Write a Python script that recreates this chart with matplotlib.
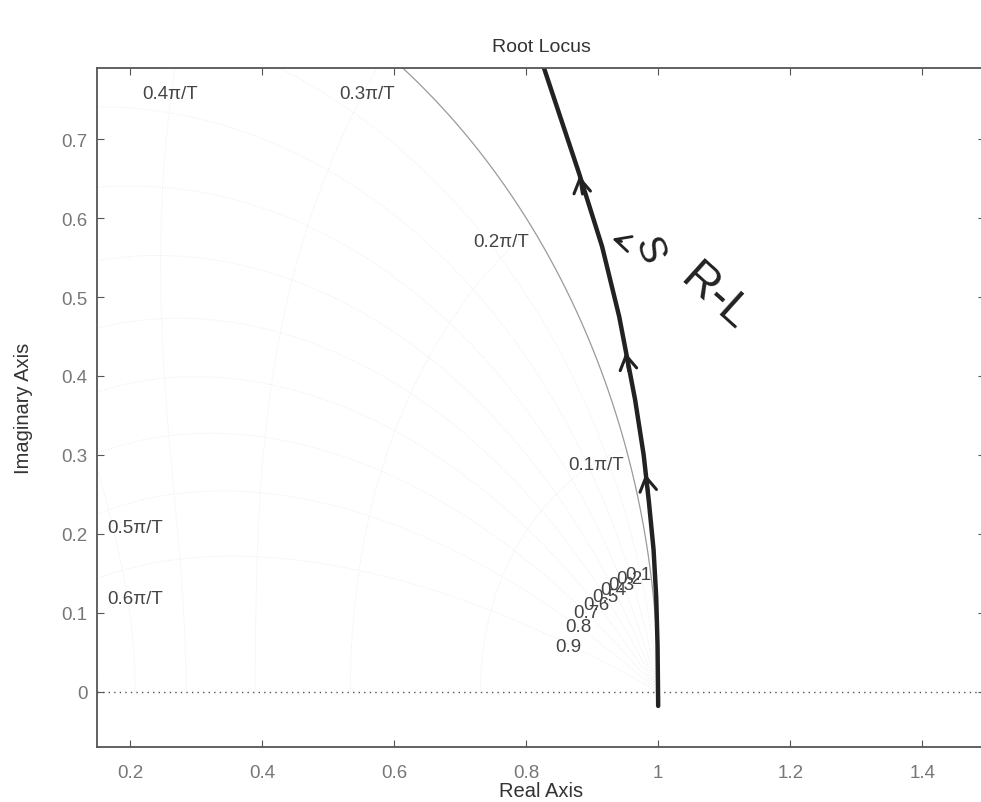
import numpy as np
import matplotlib.pyplot as plt

plt.rcParams['font.family'] = ['Liberation Sans', 'DejaVu Sans']

# root locus branch
locus_re = [1.000, 0.999, 0.997, 0.993, 0.986, 0.978, 0.965, 0.941, 0.915, 0.880, 0.827]
locus_im = [-0.018, 0.060, 0.120, 0.180, 0.240, 0.300, 0.370, 0.475, 0.564, 0.657, 0.790]

# hand drawn arrow heads along the branch
arrow_re = [0.980, 0.950, 0.880]
arrow_im = [0.279, 0.433, 0.657]

# zgrid labels
wn_labels = ['0.1\u03c0/T', '0.2\u03c0/T', '0.3\u03c0/T', '0.4\u03c0/T', '0.5\u03c0/T', '0.6\u03c0/T']
wn_label_re = [0.863, 0.720, 0.517, 0.218, 0.165, 0.165]
wn_label_im = [0.288, 0.570, 0.758, 0.758, 0.208, 0.118]

zeta_labels = ['0.1', '0.2', '0.3', '0.4', '0.5', '0.6', '0.7', '0.8', '0.9']
zeta_label_re = [0.950, 0.936, 0.924, 0.912, 0.900, 0.886, 0.872, 0.859, 0.844]
zeta_label_im = [0.148, 0.143, 0.136, 0.129, 0.120, 0.111, 0.100, 0.082, 0.057]

xticks = [0.2, 0.4, 0.6, 0.8, 1.0, 1.2, 1.4]
xticklabels = ['0.2', '0.4', '0.6', '0.8', '1', '1.2', '1.4']
yticks = [0, 0.1, 0.2, 0.3, 0.4, 0.5, 0.6, 0.7]
yticklabels = ['0', '0.1', '0.2', '0.3', '0.4', '0.5', '0.6', '0.7']

fig = plt.figure(figsize=(9.81, 8.03), dpi=100)
ax = fig.add_axes([0.099, 0.0685, 0.905, 0.8455])

# faint zgrid curves (barely visible on the scan)
w = np.linspace(0, np.pi, 300)
for zeta in np.arange(0.1, 1.0, 0.1):
    z = np.exp(-zeta * w + 1j * w * np.sqrt(1 - zeta ** 2))
    ax.plot(z.real, z.imag, ':', color='#ececec', lw=0.7)
zz = np.linspace(0, 1, 200)
for k in range(1, 11):
    wn = k * np.pi / 10
    z = np.exp(-zz * wn + 1j * wn * np.sqrt(1 - zz ** 2))
    ax.plot(z.real, z.imag, ':', color='#ececec', lw=0.7)

# unit circle
th = np.linspace(0, np.pi, 400)
ax.plot(np.cos(th), np.sin(th), color='#9a9a9a', lw=0.9)

# real axis
ax.axhline(0, color='#555555', lw=1.0, ls=(0, (1, 3)))

# root locus
ax.plot(locus_re, locus_im, color='#222222', lw=3.2, solid_capstyle='round')
for xr, yi in zip(arrow_re, arrow_im):
    ax.annotate('', xy=(xr, yi), xytext=(xr + 0.006, yi - 0.03),
                arrowprops=dict(arrowstyle='->,head_length=1.0,head_width=0.6',
                                color='#222222', lw=2.2))

# hand writing
ax.annotate('S', xy=(0.926, 0.575), xytext=(0.985, 0.560), fontsize=28,
            color='#222222', rotation=-70, ha='center', va='center',
            arrowprops=dict(arrowstyle='->', color='#222222', lw=2))
ax.text(1.085, 0.500, 'R-L', fontsize=34, color='#222222', rotation=-42,
        ha='center', va='center')

for lab, xr, yi in zip(wn_labels, wn_label_re, wn_label_im):
    ax.text(xr, yi, lab, fontsize=13.5, color='#444444', ha='left', va='center')
for lab, xr, yi in zip(zeta_labels, zeta_label_re, zeta_label_im):
    ax.text(xr, yi, lab, fontsize=13.5, color='#444444', ha='left', va='center')

ax.set_xlim(0.15, 1.495)
ax.set_ylim(-0.07, 0.79)
ax.set_xticks(xticks)
ax.set_xticklabels(xticklabels)
ax.set_yticks(yticks)
ax.set_yticklabels(yticklabels)
ax.tick_params(direction='in', top=True, right=True, labelsize=13.5,
               labelcolor='#777777', color='#555555', length=5)
ax.tick_params(axis='x', pad=12)
ax.tick_params(axis='y', pad=7)
for s in ax.spines.values():
    s.set_color('#555555')
    s.set_linewidth(1.3)

ax.set_title('Root Locus', fontsize=14, color='#333333', pad=12)
ax.set_xlabel('Real Axis', fontsize=14.5, color='#333333', labelpad=0)
ax.set_ylabel('Imaginary Axis', fontsize=14.5, color='#333333', labelpad=20)

fig.savefig('out.png', dpi=100)
